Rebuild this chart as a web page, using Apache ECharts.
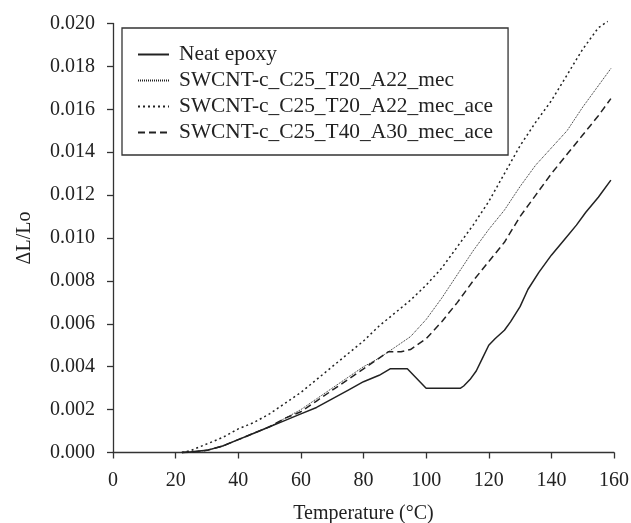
<!DOCTYPE html>
<html>
<head>
<meta charset="utf-8">
<script src="https://cdn.jsdelivr.net/npm/echarts@6/dist/echarts.min.js"></script>
<style>
html,body{margin:0;padding:0;background:#fff;}
#chart{width:631px;height:523px;}
</style>
</head>
<body>
<div id="chart"></div>
<script>
const seriesNames = ['Neat epoxy','SWCNT-c_C25_T20_A22_mec','SWCNT-c_C25_T20_A22_mec_ace','SWCNT-c_C25_T40_A30_mec_ace'];
const xTicks = [0,20,40,60,80,100,120,140,160];
const yTicks = [0,0.002,0.004,0.006,0.008,0.010,0.012,0.014,0.016,0.018,0.020];

const neatT = [22,25,30,35,40,45,50,55,60,65,70,75,80,85,88.5,94,100,111,112,114,116,118,120,122,125,127,130,132.5,136,140,144,148,151,155,159];
const neatV = [0,0.00003,0.0001,0.0003,0.0006,0.0009,0.0012,0.0015,0.0018,0.0021,0.0025,0.0029,0.0033,0.0036,0.0039,0.0039,0.0030,0.0030,0.0031,0.0034,0.0038,0.0044,0.0050,0.0053,0.0057,0.0061,0.0068,0.0076,0.0084,0.0092,0.0099,0.0106,0.0112,0.0119,0.0127];

const mecT = [22,25,30,35,40,45,50,55,60,65,70,75,80,85,90,95,100,105,110,115,120,125,130,135,140,145,150,155,159];
const mecV = [0,0.00002,0.0001,0.0003,0.0006,0.0009,0.0012,0.0016,0.0020,0.0025,0.0030,0.0035,0.0040,0.0044,0.0049,0.0054,0.0062,0.0072,0.0083,0.0094,0.0104,0.0113,0.0124,0.0134,0.0142,0.0150,0.0161,0.0171,0.0179];

const mecAceT = [22,25,30,35,40,45,50,55,60,65,70,75,80,85,90,95,100,105,110,115,120,125,130,135,140,145,150,155,158];
const mecAceV = [0,0.0001,0.0004,0.0007,0.0011,0.0014,0.0018,0.0023,0.0028,0.0034,0.0040,0.0046,0.0052,0.0059,0.0065,0.0071,0.0078,0.0086,0.0096,0.0106,0.0117,0.0130,0.0143,0.0154,0.0164,0.0176,0.0188,0.0198,0.0201];

const t40T = [22,25,30,35,40,45,50,55,60,65,70,75,80,85,88,92,95,100,105,110,115,120,125,130,135,140,145,150,155,159];
const t40V = [0,0.00002,0.0001,0.0003,0.0006,0.0009,0.0012,0.0016,0.0019,0.0024,0.0029,0.0034,0.0039,0.0044,0.0047,0.0047,0.0048,0.0053,0.0061,0.0070,0.0080,0.0089,0.0098,0.0110,0.0120,0.0130,0.0139,0.0148,0.0157,0.0165];

function pairs(xs, ys){ return xs.map((x,i)=>[x, ys[i]]); }

const FONT = '"Liberation Serif", "Times New Roman", serif';
const INK = '#222';

const styles = [
  {type:'solid', width:1.5},
  {type:[1,1], width:1},
  {type:[2,3], width:1.5},
  {type:[7,4], width:1.5}
];
const datasets = [pairs(neatT,neatV), pairs(mecT,mecV), pairs(mecAceT,mecAceV), pairs(t40T,t40V)];

const chart = echarts.init(document.getElementById('chart'), null, {renderer:'canvas'});
chart.setOption({
  animation:false,
  backgroundColor:'#fff',
  grid:{left:113, right:17, top:23.5, bottom:70.5, containLabel:false, outerBoundsMode:'none'},
  legend:{
    orient:'vertical',
    left:122, top:28,
    padding:[16,15,12,15],
    borderColor:'#333', borderWidth:1.3,
    itemWidth:31, itemHeight:14, itemGap:5,
    itemStyle:{opacity:0},
    textStyle:{fontFamily:FONT, fontSize:21.4, color:INK, lineHeight:21, padding:[0,0,0,5]},
    data:seriesNames
  },
  xAxis:{
    type:'value', min:0, max:160, interval:20,
    name:'Temperature (°C)', nameLocation:'middle', nameGap:51,
    nameTextStyle:{fontFamily:FONT, fontSize:20, color:INK},
    axisLine:{onZero:false, lineStyle:{color:'#333', width:1.3}},
    axisTick:{inside:false, length:6, lineStyle:{color:'#333', width:1.3}},
    axisLabel:{fontFamily:FONT, fontSize:20, color:INK, margin:18,
      formatter:v=> xTicks.includes(v) ? String(v) : ''},
    splitLine:{show:false}
  },
  yAxis:{
    type:'value', min:0, max:0.02, interval:0.002,
    name:'\u0394L/Lo', nameLocation:'middle', nameGap:78, nameRotate:90,
    nameTextStyle:{fontFamily:FONT, fontSize:20, color:INK},
    axisLine:{show:true, onZero:false, lineStyle:{color:'#333', width:1.3}},
    axisTick:{show:true, inside:false, length:6, lineStyle:{color:'#333', width:1.3}},
    axisLabel:{fontFamily:FONT, fontSize:20, color:INK, margin:18,
      formatter:v=> v.toFixed(3)},
    splitLine:{show:false}
  },
  series: seriesNames.map((n,i)=>({
    name:n, type:'line', data:datasets[i], showSymbol:false, symbol:'none',
    clip:false, smooth:false,
    lineStyle:{color:'#222', type:styles[i].type, width:styles[i].width},
    itemStyle:{color:'#222'}
  }))
});
</script>
</body>
</html>
